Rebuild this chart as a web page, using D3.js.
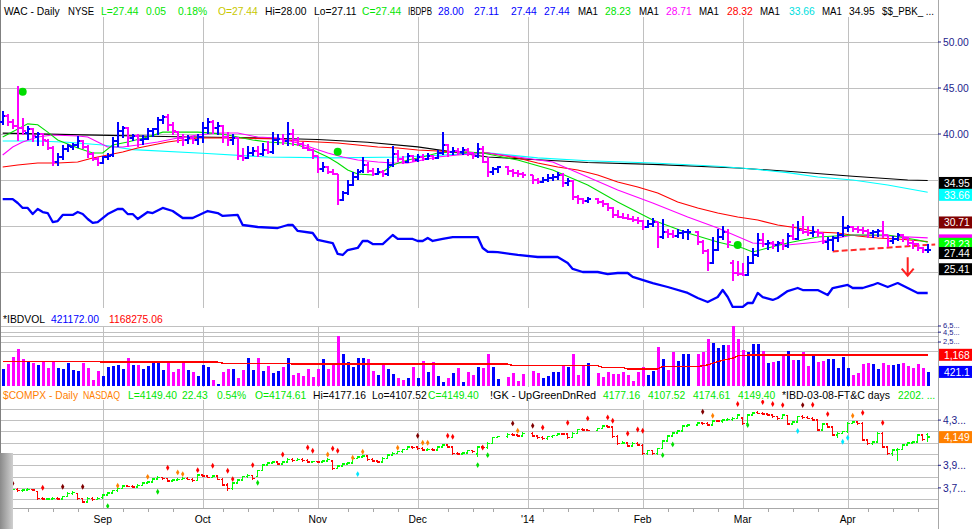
<!DOCTYPE html>
<html>
<head>
<meta charset="utf-8">
<script src="https://cdn.jsdelivr.net/npm/d3@7"></script>
<style>
  body { margin: 0; background: #fff; }
  svg text { font-family: "Liberation Sans", Arial, sans-serif; font-size: 10.3px; }
</style>
</head>
<body>
<svg id="chart" width="972" height="529"></svg>
<script>
// ---- data (day index 0..185, null = market holiday) ----
const monthLabels = ['Sep', 'Oct', 'Nov', 'Dec', "'14", 'Feb', 'Mar', 'Apr'];
const monthDays = [20, 40, 63, 83, 105, 128, 148, 169];
const weekDays = [5, 10, 15, 24, 29, 34, 44, 49, 54, 59, 69, 74, 79, 89, 94, 98, 108, 113, 118, 123,
  133, 138, 143, 153, 158, 163, 173, 178, 183];

// WAC daily bars [open, high, low, close]
const wacBars = [
  [41.3,42.4,41.0,42.0],[42.0,42.1,40.9,41.3],[41.3,41.6,40.6,40.9],[40.9,45.2,39.3,40.6],[40.6,41.7,40.0,40.3],
  [40.1,40.8,39.4,40.5],[40.5,40.6,39.2,39.8],[39.7,40.2,38.8,40.0],[40.0,40.1,38.8,39.3],[39.2,39.4,38.3,38.5],
  [38.5,38.6,36.6,37.0],[37.0,37.9,36.6,37.5],[37.5,38.8,37.2,38.4],[38.4,38.9,38.1,38.7],[38.6,39.0,38.3,38.8],
  [38.8,39.7,38.5,39.2],[39.2,39.3,38.4,38.6],[38.6,38.7,37.4,37.8],[37.8,38.0,37.1,37.3],[37.3,37.4,36.6,36.9],
  [36.9,37.6,36.8,37.5],[37.5,37.9,37.2,37.6],[37.7,39.6,37.6,39.2],[39.2,41.2,38.6,40.3],[40.3,40.8,39.6,40.6],
  [40.6,40.7,38.6,39.6],[39.6,40.0,39.3,39.8],[39.8,39.9,38.6,39.3],[39.3,39.8,38.9,39.5],[39.5,40.6,39.4,40.3],
  [40.3,40.6,39.7,40.5],[40.5,41.8,39.9,41.5],[41.5,42.0,41.1,41.8],[41.8,42.1,40.4,41.0],[41.0,41.2,39.9,40.3],
  [40.2,40.3,39.1,39.6],[39.6,39.9,38.8,39.3],[39.3,39.8,39.0,39.6],[39.6,39.7,39.0,39.4],[39.4,39.9,38.9,39.7],
  [39.7,41.2,39.1,40.6],[40.6,41.7,40.1,41.3],[41.3,41.5,40.1,40.6],[40.6,41.2,40.0,40.9],[40.9,40.9,39.1,39.7],
  [39.7,40.2,38.8,39.3],[39.3,40.0,38.9,39.6],[39.6,39.6,37.2,37.6],[37.6,38.4,37.1,37.4],[37.4,38.6,37.3,37.9],
  [37.9,38.5,37.7,38.1],[38.1,38.6,37.6,37.8],[37.8,39.0,37.7,38.3],[38.3,39.2,37.9,38.0],[38.0,40.2,37.9,39.4],
  [39.4,39.9,38.9,39.5],[39.5,39.9,38.9,39.2],[39.2,41.3,38.8,40.0],[40.0,40.5,38.8,39.4],[39.4,39.6,38.7,38.9],
  [38.9,39.1,38.4,38.5],[38.5,38.9,38.2,38.3],[38.3,38.3,37.3,37.6],[37.6,37.6,35.8,36.2],[36.2,36.9,35.9,36.4],
  [36.4,36.5,35.7,35.9],[35.9,36.1,35.6,35.7],[35.6,35.6,32.3,32.8],[32.8,33.8,32.8,33.6],[33.6,35.0,33.4,34.5],
  [34.5,35.8,34.4,35.3],[35.3,36.1,35.1,35.9],[36.0,37.4,35.8,36.6],[36.6,36.9,35.8,36.0],[36.0,36.2,35.5,35.7],
  [35.7,36.3,35.6,35.9],[35.9,36.0,35.4,35.6],[35.6,37.2,35.5,36.6],[36.6,38.6,36.5,37.8],[37.8,38.2,37.0,37.3],
  [37.3,37.6,36.8,37.0],[37.0,37.9,36.9,37.6],[37.6,37.7,37.0,37.2],[37.2,37.8,37.0,37.5],[37.5,37.8,37.1,37.3],
  [37.3,37.9,37.2,37.6],[37.6,37.7,37.2,37.4],[37.4,38.2,37.3,37.9],[37.9,40.2,37.8,38.8],[38.8,38.9,37.6,38.0],
  [38.0,38.5,37.8,38.2],[38.2,38.4,37.8,38.0],[38.0,38.5,37.8,38.3],[38.3,38.4,37.7,37.9],[37.9,38.0,37.3,37.6],
  [37.6,39.0,37.5,38.4],[38.4,38.6,36.9,37.0],[37.0,37.5,35.4,35.9],[35.9,36.4,35.6,36.2],[36.2,36.5,35.8,36.4],
  null,[36.4,36.5,35.6,36.0],[36.0,36.1,35.4,35.8],[35.8,36.0,35.4,35.6],[35.6,35.8,35.3,35.5],
  null,[35.5,35.5,34.6,35.0],[35.0,35.2,34.6,34.8],[34.8,35.3,34.7,35.0],[35.0,35.6,34.8,35.2],
  [35.2,35.6,34.9,35.3],[35.3,35.8,35.1,35.5],[35.5,35.7,34.3,34.7],[34.7,35.2,34.4,34.9],[34.9,34.9,32.9,33.2],
  [33.2,33.3,32.5,32.9],[32.9,33.0,32.5,32.7],[32.7,33.1,32.6,32.9],null,[32.9,33.0,32.4,32.6],
  [32.6,32.8,32.1,32.4],[32.4,32.5,31.7,32.0],[32.0,32.0,30.9,31.2],[31.2,31.7,30.9,31.0],[31.0,31.4,30.8,30.9],
  [30.9,31.2,30.7,30.8],[30.8,31.0,30.5,30.7],[30.7,30.9,30.3,30.5],[30.5,30.6,29.6,29.9],[29.9,30.6,29.8,30.2],
  [30.2,30.8,29.9,30.4],[30.4,30.4,27.7,28.8],[28.8,30.7,28.6,29.4],[29.4,29.6,28.7,29.1],[29.1,29.5,28.8,28.9],
  [28.9,29.6,28.7,29.2],[29.2,29.5,28.6,29.3],[29.3,29.6,28.5,29.4],null,[29.4,29.4,28.0,28.3],
  [28.3,28.4,27.0,27.3],[27.3,27.4,25.2,26.0],[26.0,28.8,25.9,27.4],[27.4,29.6,27.3,28.8],[28.8,29.9,28.5,29.3],
  [29.3,29.6,27.7,28.3],[26.0,26.3,24.1,24.9],[24.9,26.1,24.6,24.8],[24.8,25.9,24.6,24.7],[24.7,26.7,24.6,26.0],
  [26.0,27.6,25.9,26.8],[26.8,29.2,26.7,28.5],[28.5,29.2,27.8,28.0],[28.0,28.4,27.4,28.2],[28.2,28.3,27.6,27.9],
  [27.9,28.3,27.2,28.1],[28.1,28.5,27.4,27.8],[27.8,29.2,27.7,28.9],[28.9,30.2,28.5,28.6],[28.6,30.5,28.5,29.6],
  [29.6,31.0,29.2,29.3],[29.3,29.9,29.0,29.2],[29.2,29.9,28.9,29.4],[29.4,29.6,28.9,29.2],[29.2,29.2,28.1,28.3],
  [28.3,28.8,27.4,28.5],[28.5,28.9,27.3,28.7],[28.7,29.3,28.3,29.0],[29.0,31.0,28.9,29.8],[29.8,30.1,29.4,29.9],
  [29.9,30.0,29.4,29.7],[29.7,29.9,29.3,29.6],[29.6,29.8,29.2,29.5],[29.5,29.6,28.8,29.2],[29.2,29.5,28.8,29.3],
  [29.3,29.6,28.9,29.5],[29.5,30.5,28.7,29.0],[29.0,29.0,27.8,28.4],[28.4,28.9,28.1,28.6],[28.6,29.2,28.4,29.0],
  [29.0,29.1,28.3,28.7],[28.7,28.8,27.9,28.2],[28.2,28.4,27.6,28.0],[28.0,28.1,27.3,27.6],[27.6,27.7,27.1,27.39],
  [27.44,28.0,27.11,27.44]
];

// WAC daily volume, thousands of shares
const wacVolume = [
  505,681,1017,1645,919,831,708,641,783,546, 783,525,505,708,475,456,708,525,261,448,
  332,580,616,641,505,957,641,641,505,616, 815,708,475,738,430,505,783,475,413,332,
  641,580,261,201,430,505,505,300,475,957, 475,957,456,604,389,456,580,957,352,389,
  332,505,319,505,919,505,738,3650,1241,783, 580,957,957,902,448,352,681,505,374,288,
  261,288,580,300,815,430,783,332,236,288, 405,546,236,430,352,580,546,1241,580,277,
  null,306,389,246,374,null,448,389,300,338, 413,430,641,580,1241,352,616,708,null,405,
  306,430,374,374,430,352,251,430,580,352, 448,1855,902,475,1343,815,1241,1241,null,1241,
  1375,2990,2360,1747,2130,2130,6380,2990,1513,1343, 2260,2260,1485,708,783,815,1241,1485,865,865,
  1375,604,1168,783,815,902,902,546,1017,525, 352,405,681,738,681,505,738,641,641,681,
  738,604,525,681,525,421
];
// 50-day average of volume, thousands
const volumeAvg = [[0,783],[19,783],[20,753],[43,753],[44,708],[57,708],[58,668],[101,668],[102,616],
  [119,616],[120,546],[124,546],[125,505],[131,505],[132,580],[139,580],[141,641],[143,783],[146,957],
  [147,1100],[150,1168],[185,1168]];

// moving averages of WAC [day, price]
const ma10 = [[0,39.67],[5,41.1],[7,41.0],[9,40.2],[11,39.35],[15,38.48],[18,37.93],[20,37.93],[22,38.8],
  [25,39.13],[29,39.67],[32,40.2],[35,40.2],[39,40.2],[42,40.1],[45,39.9],[47,39.67],[50,39.35],[53,39.13],
  [57,39.0],[59,38.8],[62,38.26],[65,37.5],[67,36.85],[69,36.09],[71,35.65],[74,35.54],[76,35.87],[78,36.63],
  [81,37.17],[84,37.5],[87,37.93],[90,38.04],[93,38.04],[96,37.93],[103,37.17],[110,36.09],[117,34.46],
  [123,32.61],[130,30.65],[137,29.24],[143,28.26],[148,27.61],[150,27.17],[153,27.61],[157,28.15],[160,28.48],
  [163,28.8],[170,29.02],[177,29.02],[183,28.48],[185,28.23]];
const ma21 = [[0,37.72],[2,38.59],[4,39.13],[7,39.67],[10,39.89],[15,39.78],[17,39.67],[19,39.13],[21,38.59],
  [24,38.59],[27,38.8],[31,39.13],[35,39.57],[39,39.89],[43,40.11],[47,40.11],[51,39.67],[55,39.57],[59,39.02],
  [62,38.48],[65,37.93],[68,37.5],[71,37.17],[75,36.96],[78,36.85],[81,36.85],[83,37.07],[87,37.5],[91,37.72],
  [97,37.93],[103,37.5],[110,36.96],[117,35.33],[123,33.91],[130,32.5],[137,30.98],[143,29.78],[150,28.15],
  [157,27.93],[163,28.26],[167,28.7],[170,29.02],[177,28.91],[185,28.71]];
const ma50 = [[0,36.41],[3,36.63],[7,36.85],[11,36.85],[15,36.96],[18,37.39],[21,37.72],[24,38.04],[27,38.48],
  [30,38.8],[33,39.13],[36,39.35],[39,39.57],[47,39.57],[55,39.46],[59,39.24],[63,39.13],[67,39.02],[71,38.8],
  [75,38.59],[79,38.48],[83,38.26],[87,38.15],[91,38.04],[97,37.93],[103,37.39],[107,36.85],[111,36.41],
  [115,36.09],[119,35.54],[123,34.78],[127,34.24],[131,33.59],[135,32.61],[139,31.96],[143,31.41],[147,30.98],
  [151,30.65],[155,30.11],[159,29.78],[163,29.35],[167,29.24],[171,28.91],[175,28.7],[179,28.59],[185,28.32]];
const ma150 = [[0,39.24],[7,39.24],[13,39.1],[20,38.8],[26,38.3],[40,37.9],[53,37.5],[66,37.4],[80,37.5],
  [97,37.95],[107,37.4],[117,37.1],[130,36.85],[143,36.5],[150,36.2],[157,35.8],[163,35.33],[170,35.0],
  [177,34.46],[185,33.66]];
const ma200 = [[0,40.1],[16,39.9],[35,39.7],[50,39.6],[63,39.4],[73,39.1],[83,38.6],[97,37.5],[107,37.2],
  [117,36.9],[130,36.7],[147,36.3],[157,35.95],[170,35.4],[181,35.0],[185,34.95]];

// relative strength line, drawn on the price scale
const rsLine = [[0,32.93],[2,32.93],[3,32.5],[4,31.96],[5,31.96],[6,31.3],[7,31.85],[8,31.52],[9,31.41],
  [10,30.43],[11,30.54],[12,31.2],[14,31.2],[15,31.52],[16,31.3],[17,30.76],[18,30.33],[19,30.43],[21,31.3],
  [23,31.85],[24,31.85],[25,31.3],[26,31.3],[27,30.76],[29,31.52],[30,31.41],[32,31.96],[34,31.63],[36,30.87],
  [38,30.87],[41,31.63],[43,31.41],[44,31.09],[47,31.2],[48,30.11],[51,29.89],[55,29.78],[57,30.11],[58,30.11],
  [59,29.46],[62,29.24],[63,28.48],[66,28.15],[67,26.96],[68,26.85],[69,27.39],[71,27.61],[72,28.37],[73,28.37],
  [74,28.04],[76,28.04],[78,29.02],[79,28.59],[82,28.59],[83,28.37],[84,28.37],[85,28.7],[86,28.37],[88,28.59],
  [90,28.8],[92,28.8],[95,28.8],[96,27.61],[97,27.2],[99,27.17],[103,26.85],[107,26.63],[111,26.63],[113,25.98],
  [114,25.33],[116,25.0],[119,25.0],[121,24.78],[123,24.89],[125,24.89],[126,24.46],[130,23.8],[133,23.37],
  [137,22.72],[139,22.17],[141,21.74],[143,22.28],[144,23.04],[145,22.28],[146,21.2],[148,21.2],[149,21.63],
  [150,21.63],[151,22.72],[152,22.28],[154,21.96],[155,22.17],[157,22.93],[159,23.26],[160,23.04],[163,23.04],
  [165,22.5],[166,23.26],[169,23.59],[170,23.26],[172,23.26],[174,23.59],[175,23.8],[177,23.37],[179,23.8],
  [181,23.26],[183,22.72],[185,22.72]];

const signalDots = [[4,44.6],[67,38.08],[147,27.93]];
const trendLine = [[166,27.24],[186.5,28.0]];
const arrowFrom = [181,26.6], arrowTo = [181,24.6];

// NASDAQ composite daily bars [open, high, low, close]
const compxBars = [
  [3690,3702,3683,3695],[3695,3698,3660,3666],[3666,3690,3662,3686],[3686,3692,3670,3675],[3675,3688,3671,3680],
  [3680,3691,3676,3686],[3686,3690,3675,3680],[3668,3672,3600,3607],[3607,3615,3595,3601],[3601,3610,3594,3603],
  [3603,3614,3598,3607],[3607,3612,3596,3601],[3601,3626,3598,3622],[3622,3655,3620,3651],[3651,3665,3646,3660],
  [3650,3652,3600,3607],[3607,3610,3570,3577],[3577,3612,3575,3607],[3607,3612,3592,3598],[3598,3612,3594,3607],
  [3615,3640,3610,3636],[3636,3662,3632,3657],[3657,3680,3652,3675],[3675,3700,3672,3695],[3695,3720,3692,3716],
  [3716,3722,3708,3713],[3713,3718,3704,3710],[3710,3728,3706,3722],[3722,3750,3720,3745],[3745,3760,3740,3754],
  [3754,3782,3750,3778],[3778,3798,3774,3793],[3793,3796,3776,3781],[3781,3785,3758,3763],[3763,3774,3758,3769],
  [3769,3780,3764,3775],[3775,3790,3771,3784],[3784,3788,3770,3775],[3775,3780,3760,3766],[3766,3817,3764,3813],
  [3813,3820,3798,3804],[3804,3810,3788,3793],[3793,3810,3790,3804],[3804,3806,3770,3775],[3775,3780,3718,3725],
  [3725,3740,3680,3695],[3695,3750,3690,3745],[3745,3775,3740,3769],[3769,3803,3765,3799],[3799,3815,3795,3810],
  [3810,3814,3778,3784],[3800,3856,3798,3852],[3852,3906,3850,3902],[3902,3926,3898,3922],[3922,3935,3918,3931],
  [3931,3934,3906,3911],[3911,3935,3908,3931],[3931,3956,3928,3952],[3952,3958,3938,3943],[3943,3956,3940,3952],
  [3952,3956,3938,3943],[3943,3947,3926,3931],[3931,3938,3925,3934],[3934,3938,3922,3928],[3928,3941,3924,3937],
  [3937,3956,3934,3952],[3940,3944,3866,3872],[3872,3897,3868,3893],[3893,3915,3889,3911],[3911,3926,3907,3922],
  [3922,3965,3920,3961],[3961,3979,3957,3975],[3975,3985,3970,3981],[3981,3984,3946,3952],[3952,3956,3932,3937],
  [3937,3940,3922,3928],[3928,3965,3925,3961],[3961,3994,3958,3990],[3990,4009,3986,4005],[4005,4024,4001,4020],
  [4020,4044,4016,4040],[4040,4068,4036,4064],[4064,4067,4052,4058],[4064,4068,4044,4049],[4049,4055,4030,4035],
  [4035,4045,4031,4040],[4040,4046,4030,4035],[4035,4068,4032,4064],[4064,4083,4060,4079],[4079,4082,4058,4064],
  [4064,4066,3998,4005],[4005,4010,3996,4002],[4002,4016,3998,4011],[4011,4033,4008,4029],[4029,4033,4014,4020],
  [4000,4068,3975,4064],[4064,4068,4052,4058],[4058,4098,4050,4094],[4094,4150,4090,4147],[4147,4157,4143,4153],
  null,[4153,4177,4150,4173],[4173,4180,4165,4170],[4170,4174,4155,4161],[4161,4186,4158,4182],
  null,[4182,4186,4156,4161],[4161,4165,4140,4147],[4147,4152,4128,4135],[4135,4157,4130,4153],
  [4153,4168,4148,4164],[4164,4182,4160,4178],[4178,4184,4170,4176],[4176,4178,4140,4147],[4147,4186,4144,4182],
  [4182,4221,4180,4217],[4217,4222,4208,4214],[4214,4218,4204,4209],null,[4209,4230,4205,4226],
  [4226,4251,4222,4247],[4247,4252,4236,4241],[4241,4244,4146,4153],[4153,4160,4088,4094],[4094,4112,4090,4099],
  [4099,4104,4064,4070],[4070,4098,4066,4094],[4094,4098,4074,4079],[4076,4082,3996,4005],[4005,4034,3998,4029],
  [4029,4032,3994,4005],[4005,4053,4000,4049],[4049,4122,4045,4117],[4117,4163,4112,4158],[4158,4192,4154,4188],
  [4188,4207,4184,4203],[4203,4251,4200,4247],[4247,4260,4242,4256],null,[4256,4280,4252,4276],
  [4276,4280,4264,4271],[4271,4275,4250,4256],[4256,4298,4252,4294],[4294,4300,4284,4291],[4291,4304,4282,4300],
  [4300,4310,4295,4306],[4306,4320,4300,4315],[4315,4348,4312,4344],[4320,4326,4262,4271],[4271,4348,4268,4344],
  [4344,4370,4340,4365],[4368,4376,4355,4360],[4360,4366,4346,4352],[4352,4360,4338,4344],[4344,4350,4325,4330],
  [4330,4336,4308,4315],[4315,4348,4312,4344],[4340,4345,4258,4265],[4265,4290,4260,4285],[4285,4334,4280,4330],
  [4330,4338,4318,4324],[4324,4330,4310,4315],[4315,4320,4294,4300],[4300,4304,4205,4212],[4212,4270,4208,4265],
  [4265,4272,4236,4241],[4241,4246,4160,4167],[4167,4188,4150,4182],[4182,4202,4178,4197],[4197,4276,4194,4271],
  [4271,4290,4266,4285],[4285,4290,4265,4271],[4271,4276,4118,4123],[4123,4128,4088,4094],[4094,4112,4088,4108],
  [4108,4186,4104,4182],[4182,4186,4058,4064],[4064,4068,3998,4005],[4005,4040,3990,4035],[4035,4045,3946,4040],
  [4040,4083,4036,4079],[4079,4103,4074,4099],[4099,4112,4094,4108],[4108,4172,4104,4167],[4167,4170,4120,4127],
  [4174.61,4177.16,4107.52,4149.40]
];
// follow-through / distribution markers [day, level, kind]
const compxMarkers = [[1,3769,'d'],[2,3740,'d'],[8,3701,'r'],[12,3710,'d'],[16,3710,'d'],[21,3539,'g'],
  [23,3719,'o'],[29,3798,'o'],[31,3666,'g'],[33,3878,'r'],[35,3837,'o'],[36,3822,'o'],[39,3857,'r'],[42,3896,'r'],
  [45,3852,'r'],[46,3778,'r'],[50,3902,'r'],[51,3745,'g'],[56,3996,'r'],[61,4058,'r'],[62,4029,'r'],[65,3996,'o'],
  [66,4049,'r'],[67,4029,'r'],[70,3967,'o'],[71,3822,'c'],[72,4020,'o'],[79,4055,'o'],[83,4161,'d'],[84,4099,'o'],
  [85,4099,'o'],[89,4161,'r'],[90,4153,'r'],[95,3902,'g'],[96,4058,'r'],[97,3990,'g'],[102,4271,'d'],[103,4206,'o'],
  [106,4250,'d'],[108,4235,'r'],[113,4276,'r'],[117,4315,'r'],[121,4324,'r'],[122,4294,'r'],[125,4182,'r'],
  [127,4217,'r'],[128,4206,'r'],[132,3990,'g'],[134,4085,'g'],[140,4374,'d'],[142,4338,'o'],[147,4442,'r'],
  [149,4256,'g'],[152,4460,'r'],[154,4442,'r'],[156,4433,'r'],[159,4203,'c'],[160,4433,'d'],[162,4436,'r'],
  [165,4353,'r'],[168,4108,'c'],[169,4144,'c'],[170,4338,'o'],[172,4365,'r'],[176,4276,'r']];

const priceTicks = [25, 30, 35, 40, 45, 50];
const priceLabels = [[45, '45.00'], [50, '50.00'], [40, '40.00']];
const volumeGrid = [1500, 2500, 3500, 4500, 6500];
const volumeLabels = [[6500, '6,5...'], [4500, '4,5...'], [2500, '2,5...']];
const compxGrid = [3600, 3700, 3800, 3900, 4000, 4100, 4200, 4300, 4400];
const compxLabels = [[4300, '4,3...'], [3900, '3,9...'], [3700, '3,7...']];

// ---- drawing ----
const BLUE = '#0000ff', MAG = '#ff00ff', GRN = '#00e600', RED = '#ff0000',
  ORANGE = '#ff8000', GRID = '#c0c0c0', AXIS = '#1c1c8c';
const svg = d3.select('#chart');
const right = 938;
const x = d3.scaleLinear().domain([0, 185]).range([2.7, 927.7]);
const yPrice = d3.scaleLinear().domain([25, 50]).range([272, 42]);
const yVol = d3.scaleLog().domain([182, 6500]).range([386, 326]);
const yComp = d3.scaleLinear().domain([3600, 4400]).range([499.2, 408.8]);

const panels = {main: [17, 308], vol: [326, 387], comp: [400, 508]};
const defs = svg.append('defs');
Object.entries(panels).forEach(([k, [t, b]]) => {
  defs.append('clipPath').attr('id', 'clip-' + k)
    .append('rect').attr('x', 0).attr('y', t).attr('width', right).attr('height', b - t);
});

const grid = svg.append('g').attr('stroke', GRID).attr('shape-rendering', 'crispEdges');
Object.values(panels).forEach(([t, b]) => {
  grid.selectAll(null).data(monthDays).enter().append('line')
    .attr('x1', d => Math.round(x(d)) + 0.5).attr('x2', d => Math.round(x(d)) + 0.5)
    .attr('y1', t).attr('y2', b);
});
grid.selectAll(null).data(priceTicks).enter().append('line')
  .attr('x1', 0).attr('x2', right).attr('y1', d => Math.round(yPrice(d)) + 0.5).attr('y2', d => Math.round(yPrice(d)) + 0.5);
grid.selectAll(null).data(volumeGrid).enter().append('line')
  .attr('x1', 0).attr('x2', right).attr('y1', d => Math.round(yVol(d)) + 0.5).attr('y2', d => Math.round(yVol(d)) + 0.5);
grid.selectAll(null).data(compxGrid).enter().append('line')
  .attr('x1', 0).attr('x2', right).attr('y1', d => Math.round(yComp(d)) + 0.5).attr('y2', d => Math.round(yComp(d)) + 0.5);

// frame
svg.append('line').attr('x1', right + 0.5).attr('x2', right + 0.5).attr('y1', 0).attr('y2', 529)
  .attr('stroke', '#a8a8a8');
svg.append('line').attr('x1', 0).attr('x2', right).attr('y1', 508.5).attr('y2', 508.5).attr('stroke', '#a8a8a8');
svg.append('line').attr('x1', 0.5).attr('x2', 0.5).attr('y1', 0).attr('y2', 529).attr('stroke', '#808080');
svg.selectAll(null).data(weekDays).enter().append('line')
  .attr('x1', d => Math.round(x(d)) + 0.5).attr('x2', d => Math.round(x(d)) + 0.5)
  .attr('y1', 508).attr('y2', 512).attr('stroke', '#a8a8a8');

// up/down by close versus previous close
function direction(bars) {
  let last = null;
  return bars.map(d => {
    if (!d) return null;
    const up = last === null ? d[3] >= d[0] : d[3] >= last;
    last = d[3];
    return up;
  });
}
const wacUp = direction(wacBars);
const compUp = direction(compxBars);

function drawBars(panel, bars, upFlags, y, upColor, downColor, width, tick) {
  const days = bars.map((d, i) => ({i, d})).filter(e => e.d);
  const g = svg.append('g').attr('clip-path', `url(#clip-${panel})`).attr('shape-rendering', 'crispEdges');
  const bar = g.selectAll('g').data(days).join('g')
    .attr('stroke', e => upFlags[e.i] ? upColor : downColor).attr('stroke-width', width);
  bar.append('line')
    .attr('x1', e => x(e.i)).attr('x2', e => x(e.i))
    .attr('y1', e => y(e.d[1]) - 0.5).attr('y2', e => y(e.d[2]) + 0.5);
  bar.append('line')
    .attr('x1', e => x(e.i) - tick).attr('x2', e => x(e.i))
    .attr('y1', e => y(e.d[0])).attr('y2', e => y(e.d[0]));
  bar.append('line')
    .attr('x1', e => x(e.i)).attr('x2', e => x(e.i) + tick)
    .attr('y1', e => y(e.d[3])).attr('y2', e => y(e.d[3]));
}

// main price panel
const mainG = svg.append('g').attr('clip-path', 'url(#clip-main)');
const priceLine = d3.line().x(d => x(d[0])).y(d => yPrice(d[1]));
[[ma200, '#000000'], [ma150, '#00ffff'], [ma50, RED], [ma21, MAG], [ma10, '#00dd00']].forEach(([pts, col]) => {
  mainG.append('path').attr('d', priceLine(pts)).attr('fill', 'none').attr('stroke', col).attr('stroke-width', 1.1);
});
mainG.append('path').attr('d', priceLine(rsLine)).attr('fill', 'none').attr('stroke', BLUE)
  .attr('stroke-width', 2.3).attr('stroke-linejoin', 'round');
drawBars('main', wacBars, wacUp, yPrice, BLUE, MAG, 2, 3);
mainG.append('path').attr('d', priceLine(trendLine)).attr('fill', 'none').attr('stroke', '#ff2a2a')
  .attr('stroke-width', 2).attr('stroke-dasharray', '6,3');
mainG.selectAll(null).data(signalDots).enter().append('circle')
  .attr('cx', d => x(d[0])).attr('cy', d => yPrice(d[1])).attr('r', 4).attr('fill', '#00dd00');
{
  const ax = x(arrowFrom[0]), y0 = yPrice(arrowFrom[1]), y1 = yPrice(arrowTo[1]);
  mainG.append('path').attr('d', `M${ax},${y0}V${y1}M${ax - 6},${y1 - 7}L${ax},${y1}L${ax + 6},${y1 - 7}`)
    .attr('fill', 'none').attr('stroke', '#ff2020').attr('stroke-width', 2);
}

// volume panel
const volG = svg.append('g').attr('clip-path', 'url(#clip-vol)').attr('shape-rendering', 'crispEdges');
volG.selectAll('rect').data(wacVolume.map((v, i) => ({i, v})).filter(e => e.v && e.v > 182)).join('rect')
  .attr('x', e => Math.round(x(e.i)) - 1).attr('width', 3)
  .attr('y', e => yVol(e.v)).attr('height', e => 386 - yVol(e.v))
  .attr('fill', e => wacUp[e.i] ? BLUE : MAG);
volG.append('path').attr('d', d3.line().x(d => x(d[0])).y(d => yVol(d[1]))(volumeAvg))
  .attr('fill', 'none').attr('stroke', RED).attr('stroke-width', 1.4);

// NASDAQ panel
drawBars('comp', compxBars, compUp, yComp, '#00ff00', RED, 1.5, 2);
const markColor = {r: RED, d: '#800000', o: ORANGE, g: '#00e000', c: '#00e8ff'};
svg.append('g').attr('clip-path', 'url(#clip-comp)').selectAll('path').data(compxMarkers).join('path')
  .attr('transform', d => `translate(${x(d[0])},${yComp(d[1])})`)
  .attr('d', d3.symbol(d3.symbolDiamond, 10)).attr('fill', d => markColor[d[2]]);

// right axis labels
function axisLabels(list, y, size, dy) {
  const g = svg.append('g');
  list.forEach(([v, t]) => {
    g.append('line').attr('x1', right).attr('x2', right + 3).attr('y1', y(v)).attr('y2', y(v)).attr('stroke', AXIS);
    g.append('text').attr('x', right + 5).attr('y', y(v) + dy).attr('fill', AXIS)
      .style('font-size', size).text(t);
  });
}
axisLabels(priceLabels, yPrice, '10.3px', 3.6);
axisLabels(volumeLabels, yVol, '7.5px', 2.4);
axisLabels(compxLabels, yComp, '10.3px', 3.6);

// value tags on the right edge; covered tags keep only their colour strip
function tag(yc, label, bg, fg) {
  svg.append('rect').attr('x', right + 1).attr('y', yc - 6).attr('width', 972 - right).attr('height', 12)
    .attr('fill', bg);
  if (label) svg.append('text').attr('x', right + 6).attr('y', yc + 4).attr('fill', fg).text(label);
}
tag(yPrice(28.32) + 2.5, null, RED);
tag(yPrice(28.71) + 2.5, null, MAG);
tag(yPrice(28.23) + 1.5, '28.23', '#00ff00', '#fff');
tag(yPrice(30.71) + 3, '30.71', '#800000', '#fff');
tag(yPrice(27.44) + 3.5, '27.44', '#000', '#fff');
tag(yPrice(34.95) + 2.5, '34.95', '#000', '#fff');
tag(yPrice(33.66) + 2.5, '33.66', '#00ffff', '#fff');
tag(yPrice(25.41) + 1, '25.41', '#000', '#fff');
tag(yVol(1168), '1,168', RED, '#fff');
tag(yVol(421.172), '421.1', BLUE, '#fff');
tag(yComp(4149.4), '4,149', ORANGE, '#fff');

// month labels
svg.selectAll('text.month').data(monthDays).enter().append('text').attr('class', 'month')
  .attr('x', d => x(d)).attr('y', 523).attr('text-anchor', 'middle').attr('fill', '#000')
  .text((d, i) => monthLabels[i]);

// header rows: [text, x, colour, fitted width]
function header(y, parts) {
  parts.forEach(([t, px, col, w]) => {
    const el = svg.append('text').attr('x', px).attr('y', y).attr('fill', col).text(t);
    if (w) el.attr('textLength', w).attr('lengthAdjust', 'spacingAndGlyphs');
  });
}
const YEL = '#c8c800';
header(15, [['WAC - Daily', 4, '#000'], ['NYSE', 68, '#000', 26], ['L=27.44', 101, GRN], ['0.05', 146, GRN],
  ['0.18%', 178, GRN], ['O=27.44', 218, YEL], ['Hi=28.00', 265, '#000'], ['Lo=27.11', 314, '#000'],
  ['C=27.44', 362, GRN], ['IBDPB', 408, '#000', 24], ['28.00', 438, BLUE], ['27.11', 474, BLUE], ['27.44', 511, BLUE],
  ['27.44', 544, BLUE], ['MA1', 578, '#000', 20], ['28.23', 605, GRN], ['MA1', 639, '#000', 20], ['28.71', 666, MAG],
  ['MA1', 699, '#000', 20], ['28.32', 727, RED], ['MA1', 760, '#000', 20], ['33.66', 789, '#00e0e0'],
  ['MA1', 822, '#000', 20], ['34.95', 849, '#000'], ['$$_PBK_ ...', 882, '#000', 52]]);
header(323, [['*IBDVOL', 3, '#000', 42], ['421172.00', 51, BLUE], ['1168275.06', 109, RED]]);
header(399, [['$COMPX - Daily', 3, ORANGE, 75], ['NASDAQ', 83, ORANGE, 37], ['L=4149.40', 128, GRN], ['22.43', 182, GRN],
  ['0.54%', 217, GRN], ['O=4174.61', 255, GRN], ['Hi=4177.16', 313, '#000'], ['Lo=4107.52', 372, '#000'],
  ['C=4149.40', 428, GRN], ['!GK - UpGreenDnRed', 490, '#000', 106], ['4177.16', 603, GRN], ['4107.52', 648, GRN],
  ['4174.61', 693, GRN], ['4149.40', 738, GRN], ['*IBD-03-08-FT&C days', 782, '#000', 108], ['2202. ...', 898, GRN]]);

// side tab at bottom left
const tabGrad = defs.append('linearGradient').attr('id', 'tabGrad');
tabGrad.append('stop').attr('offset', 0).attr('stop-color', '#8a8a8a');
tabGrad.append('stop').attr('offset', 1).attr('stop-color', '#d0d0d0');
svg.append('rect').attr('x', 0).attr('y', 453).attr('width', 13).attr('height', 76).attr('fill', 'url(#tabGrad)');
</script>
</body>
</html>
